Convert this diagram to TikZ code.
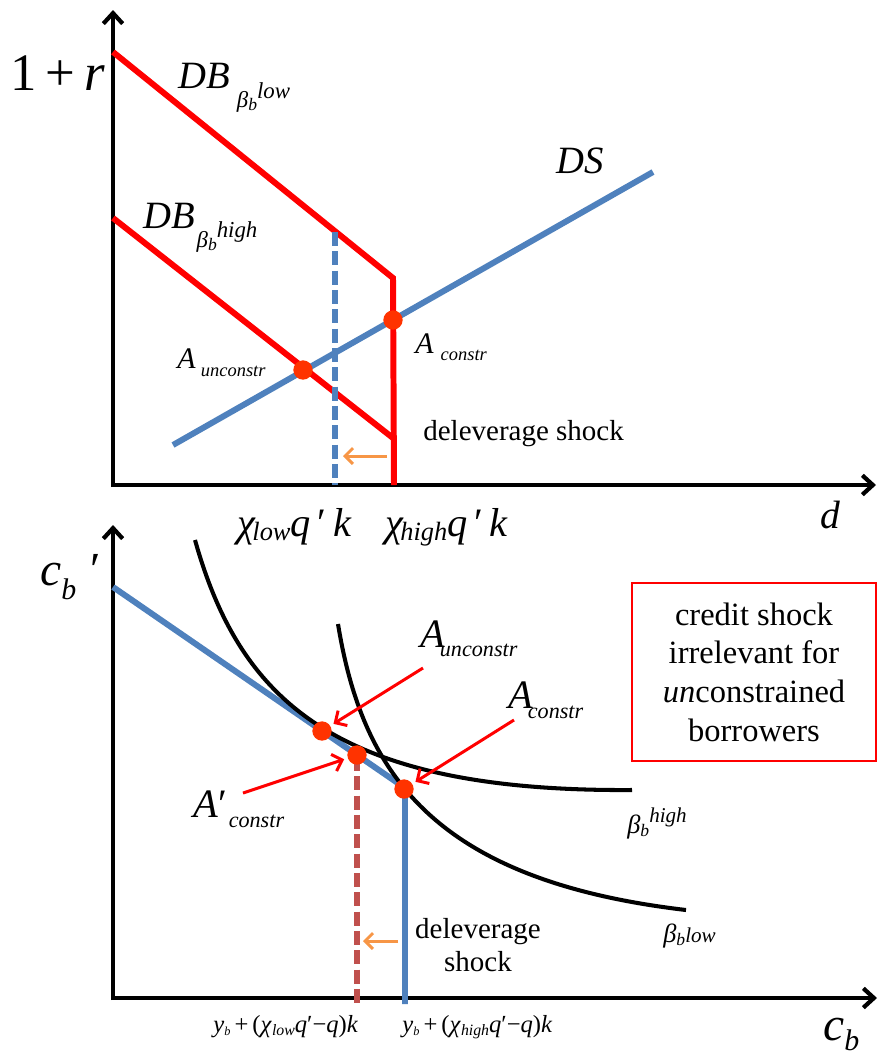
\documentclass[tikz,border=0pt]{standalone}
\usepackage{fontspec}
\setmainfont{Liberation Serif}
\usepackage{tikz}
\usetikzlibrary{arrows.meta,positioning}
\definecolor{lineblue}{HTML}{4F81BD}
\definecolor{dotred}{HTML}{FF3300}
\definecolor{shockorange}{HTML}{F79646}
\definecolor{dashred}{HTML}{C0504D}

\begin{document}
\begin{tikzpicture}[x=0.02cm,y=-0.02cm,
	axis/.style={line width=2.4pt,-{Straight Barb[length=6pt,width=11pt]}},
	demand/.style={red,line width=3.4pt},
	supply/.style={lineblue,line width=3.4pt},
	limitdash/.style={line width=3.2pt,dash pattern=on 8pt off 3pt},
	indiff/.style={black,line width=2.3pt},
	eqdot/.style={circle,fill=dotred,inner sep=0pt,minimum size=11pt},
	pointer/.style={red,line width=1.7pt,shorten >=2pt,-{Straight Barb[length=5pt,width=10pt]}},
	shockarrow/.style={shockorange,line width=1.7pt,-{Straight Barb[length=4.5pt,width=9pt]}},
	lbl/.style={inner sep=0pt,anchor=base west},
	notebox/.style={draw=red,line width=1.1pt,align=center,inner sep=0pt,
		minimum width=139pt,minimum height=101pt,
		font=\fontsize{18.5}{22}\selectfont}
	]
	\useasboundingbox (0,0) rectangle (878,1056);
	
	% upper panel: debt market
	\draw[axis] (113,487) -- (113,10);
	\draw[axis] (111,485) -- (876,485);
	\draw[supply] (173,445) -- (653,172);
	\draw[demand] (113,52) -- (393,278) -- (394,485);
	\draw[demand] (113,218) -- (393,438);
	\draw[limitdash,lineblue] (335,232) -- (335,485);
	\node[eqdot] (topcon) at (393,320) {};
	\node[eqdot] (topunc) at (303,370) {};
	\coordinate (topshiftA) at (387,456);
	\coordinate (topshiftB) at (343,456);
	\draw[shockarrow] (topshiftA) -- (topshiftB);
	
	\node[lbl,font=\fontsize{30}{34}\selectfont] (rate) at (10,90) {1\,+\,\textit{r}};
	\node[lbl,font=\fontsize{22}{26}\selectfont] (dblow) at (178,88)
	{\textit{DB}\hspace{4pt}\raisebox{-11pt}{\fontsize{13}{15}\selectfont\textit{β}\raisebox{-2pt}{\fontsize{10}{12}\selectfont\textit{b}}\raisebox{5pt}{\textit{low}}}};
	\node[lbl,font=\fontsize{22}{26}\selectfont] (dbhigh) at (143,228)
	{\textit{DB}\hspace{1pt}\raisebox{-11pt}{\fontsize{13}{15}\selectfont\textit{β}\raisebox{-2pt}{\fontsize{10}{12}\selectfont\textit{b}}\raisebox{5.5pt}{\textit{high}}}};
	\node[lbl,font=\fontsize{22}{26}\selectfont] (ds) at (556,173) {\textit{DS}};
	\node[lbl,font=\fontsize{17}{20}\selectfont] (topunclbl) at (177,368)
	{\textit{A}\hspace{3pt}\raisebox{-5pt}{\fontsize{10.5}{12}\selectfont\textit{unconstr}}};
	\node[lbl,font=\fontsize{17}{20}\selectfont] (topconlbl) at (415,353)
	{\textit{A}\hspace{4pt}\raisebox{-4.5pt}{\fontsize{10.5}{12}\selectfont\textit{constr}}};
	\node[lbl,font=\fontsize{16.5}{19}\selectfont] (topshock) at (423,440) {deleverage shock};
	\node[lbl,font=\fontsize{23}{26}\selectfont] (chilow) at (237,536)
	{\textit{χ}\hspace{-2pt}\raisebox{-2.5pt}{\fontsize{15}{18}\selectfont\textit{low}}\textit{q}\,′\,\textit{k}};
	\node[lbl,font=\fontsize{23}{26}\selectfont] (chihigh) at (385,536)
	{\textit{χ}\hspace{-2pt}\raisebox{-2.5pt}{\fontsize{15}{18}\selectfont\textit{high}}\textit{q}\,′\,\textit{k}};
	\node[lbl,font=\fontsize{22.5}{26}\selectfont] (dlbl) at (820,528) {\textit{d}};
	
	% lower panel: consumption choice
	\draw[axis] (113,1000) -- (113,525);
	\draw[axis] (111,998) -- (877,998);
	\draw[supply,rounded corners=6pt] (113,587) -- (405,788) -- (405,1004);
	\draw[limitdash,dashred] (357,757) -- (357,1004);
	\draw[indiff] (195,540) .. controls (240,700) and (335,792) .. (632,790);
	\draw[indiff] (338,624) .. controls (362,770) and (430,880) .. (686,910);
	\node[eqdot] (botunc) at (322,731) {};
	\node[eqdot] (botnew) at (357,755) {};
	\node[eqdot] (botcon) at (404,789) {};
	\coordinate (botshiftA) at (398,941);
	\coordinate (botshiftB) at (363,941);
	\draw[shockarrow] (botshiftA) -- (botshiftB);
	
	\coordinate (tailunc) at (423,668);
	\coordinate (tailcon) at (514,720);
	\coordinate (tailnew) at (243,793);
	\draw[pointer] (tailunc) -- (botunc);
	\draw[pointer] (tailcon) -- (botcon);
	\draw[pointer] (tailnew) -- (botnew);
	
	\node[lbl,font=\fontsize{27}{30}\selectfont] (cnext) at (40,585)
	{\textit{c}\raisebox{-8pt}{\fontsize{17}{20}\selectfont\textit{b}}\hspace{8pt}′};
	\node[lbl,font=\fontsize{27}{30}\selectfont] (cnow) at (823,1040)
	{\textit{c}\raisebox{-6pt}{\fontsize{17}{20}\selectfont\textit{b}}};
	\node[lbl,font=\fontsize{23}{26}\selectfont] (botunclbl) at (420,647)
	{\textit{A}\hspace{-3pt}\raisebox{-5.5pt}{\fontsize{12.6}{14}\selectfont\textit{unconstr}}};
	\node[lbl,font=\fontsize{23}{26}\selectfont] (botconlbl) at (508,708)
	{\textit{A}\hspace{-3pt}\raisebox{-6pt}{\fontsize{12.6}{14}\selectfont\textit{constr}}};
	\node[lbl,font=\fontsize{23}{26}\selectfont] (botnewlbl) at (193,817)
	{\textit{A}′\hspace{1pt}\raisebox{-6pt}{\fontsize{12.6}{14}\selectfont\textit{constr}}};
	\node[lbl,font=\fontsize{15}{18}\selectfont] (betahigh) at (627,833)
	{\textit{β}\raisebox{-2pt}{\fontsize{10}{12}\selectfont\textit{b}}\raisebox{6pt}{\fontsize{12}{14}\selectfont\textit{high}}};
	\node[lbl,font=\fontsize{15}{18}\selectfont] (betalow) at (663,942)
	{\textit{β}\raisebox{-2pt}{\fontsize{10}{12}\selectfont\textit{b}}{\fontsize{12}{14}\selectfont\textit{low}}};
	\node[font=\fontsize{16.5}{19}\selectfont,align=center,inner sep=0pt] (botshock) at (478,945) {deleverage\\shock};
	\node[lbl,font=\fontsize{14}{16}\selectfont] (limlow) at (213,1032)
	{\textit{y}\raisebox{-2pt}{\fontsize{7}{8}\selectfont\textit{b}}\,+\,(\textit{χ}\raisebox{-2pt}{\fontsize{9}{10}\selectfont\textit{low}}\textit{q}′−\textit{q})\textit{k}};
	\node[lbl,font=\fontsize{14}{16}\selectfont] (limhigh) at (402,1032)
	{\textit{y}\raisebox{-2pt}{\fontsize{7}{8}\selectfont\textit{b}}\,+\,(\textit{χ}\raisebox{-2pt}{\fontsize{9}{10}\selectfont\textit{high}}\textit{q}′−\textit{q})\textit{k}};
	
	\node[notebox] (note) at (754,672)
	{credit shock\\irrelevant for\\\textit{un}constrained\\borrowers};
	
\end{tikzpicture}
\end{document}
